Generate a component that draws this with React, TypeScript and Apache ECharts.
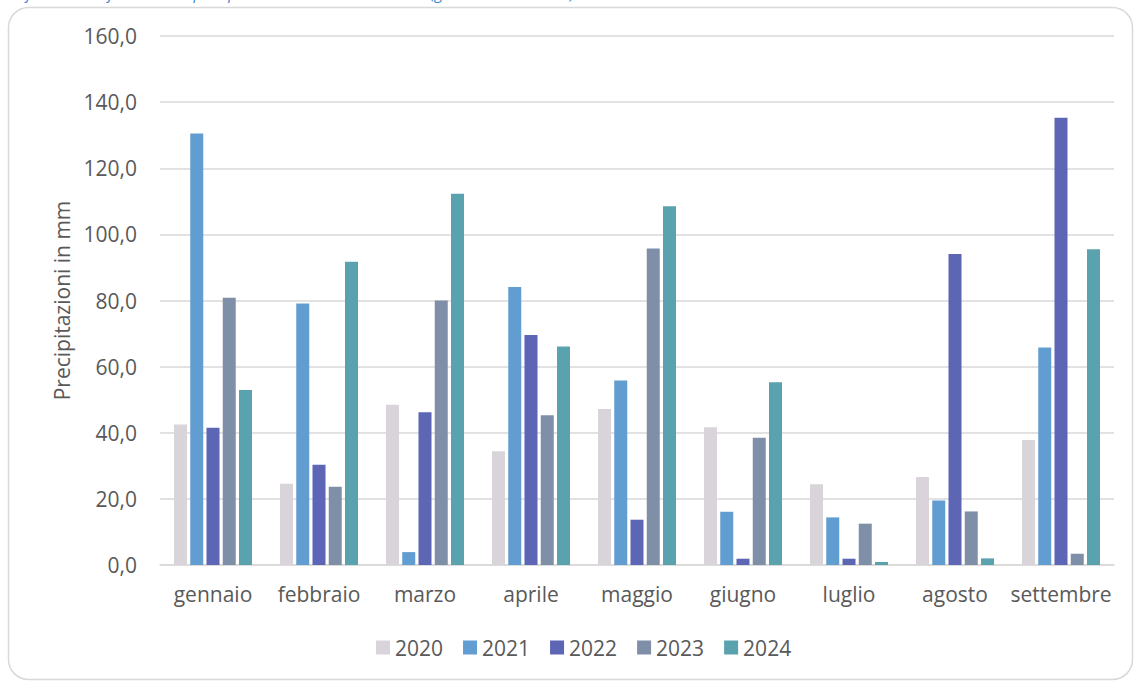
import React, { useEffect, useRef } from "react";
import * as echarts from "echarts";

const categories = ["gennaio", "febbraio", "marzo", "aprile", "maggio", "giugno", "luglio", "agosto", "settembre"];
const years = ["2020", "2021", "2022", "2023", "2024"];
const v2020 = [42.5, 24.6, 48.5, 34.4, 47.2, 41.7, 24.4, 26.6, 37.8];
const v2021 = [130.5, 79.1, 3.9, 84.1, 55.8, 16.1, 14.4, 19.5, 65.8];
const v2022 = [41.5, 30.3, 46.2, 69.6, 13.7, 1.9, 1.9, 94.1, 135.3];
const v2023 = [80.8, 23.7, 80.0, 45.3, 95.7, 38.5, 12.5, 16.2, 3.4];
const v2024 = [52.9, 91.7, 112.3, 66.1, 108.5, 55.3, 0.9, 2.0, 95.5];
const seriesValues = [v2020, v2021, v2022, v2023, v2024];
const colors = ["#d8d4da", "#629dd1", "#5d65b5", "#7f8fa8", "#5aa3ae"];
const yAxisName = "Precipitazioni in mm";
const titleText = "Grafico 1 – Confronto delle precipitazioni mensili 2020–2024 (gennaio–settembre)";

const FONT = "'Open Sans', 'Liberation Sans', sans-serif";

export default function App() {
  const ref = useRef<HTMLDivElement>(null);
  useEffect(() => {
    if (!ref.current) return;
    const chart = echarts.init(ref.current, undefined, { renderer: "svg" });
    chart.setOption({
      animation: false,
      backgroundColor: "#ffffff",
      textStyle: { fontFamily: FONT },
      graphic: [
        {
          type: "rect",
          shape: { x: 8.5, y: 7.5, width: 1124, height: 672, r: 20 },
          style: { fill: "none", stroke: "#d9d9d9", lineWidth: 1.5 },
          z: -1,
        },
        {
          type: "text",
          left: 0,
          top: -15,
          style: {
            text: titleText,
            fontFamily: FONT,
            fontStyle: "italic",
            fontSize: 16,
            fill: "#3f8ad6",
          },
        },
      ],
      grid: { left: 160, right: 20, top: 36, bottom: 117, containLabel: false },
      legend: {
        data: years,
        left: 371,
        top: 632,
        itemWidth: 14,
        itemHeight: 14,
        itemGap: 20,
        icon: "rect",
        textStyle: { fontSize: 21, color: "#595959", fontFamily: FONT },
      },
      xAxis: {
        type: "category",
        data: categories,
        axisLine: { show: true, lineStyle: { color: "#d9d9d9", width: 1.5 } },
        axisTick: { show: false },
        axisLabel: { fontSize: 21, color: "#595959", margin: 18, fontFamily: FONT, interval: 0 },
      },
      yAxis: {
        type: "value",
        min: 0,
        max: 160,
        interval: 20,
        name: yAxisName,
        nameLocation: "middle",
        nameRotate: 90,
        nameGap: 88,
        nameTextStyle: { fontSize: 21, color: "#595959", fontFamily: FONT },
        axisLine: { show: false },
        axisTick: { show: false },
        axisLabel: {
          fontSize: 21,
          color: "#595959",
          margin: 23,
          fontFamily: FONT,
          formatter: (v: number) => v.toFixed(1).replace(".", ","),
        },
        splitLine: { lineStyle: { color: "#d9d9d9", width: 1.5 } },
      },
      series: years.map((y, i) => ({
        name: y,
        type: "bar",
        data: seriesValues[i],
        barWidth: 13,
        barGap: "25%",
        itemStyle: { color: colors[i] },
      })),
    });
    return () => chart.dispose();
  }, []);
  return <div ref={ref} style={{ position: "fixed", left: 0, top: 0, width: 1134, height: 682 }} />;
}
